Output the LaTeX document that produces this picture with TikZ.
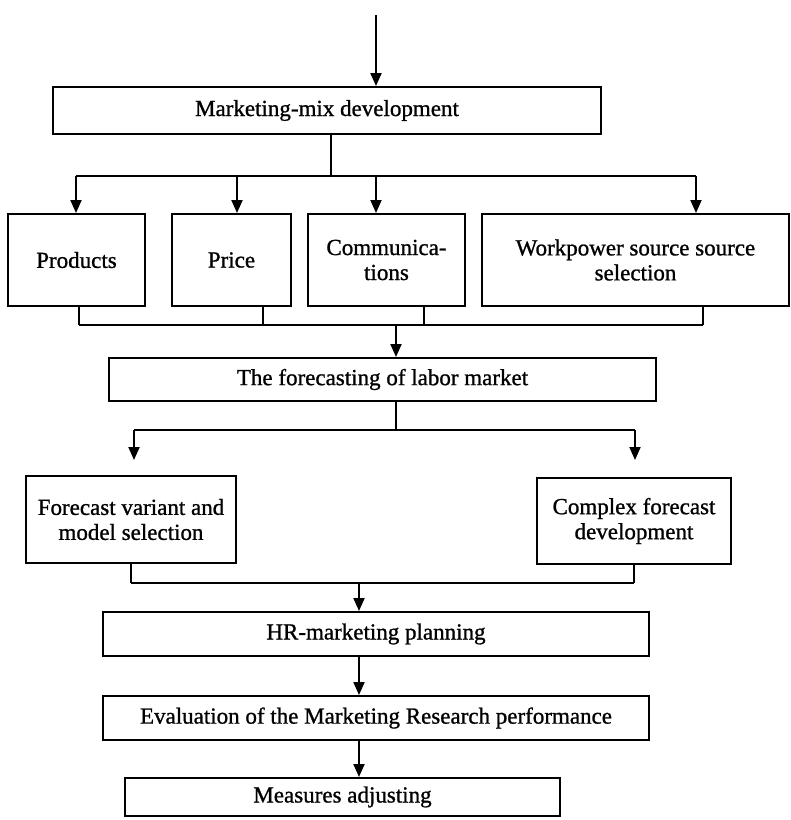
\documentclass[tikz,border=0pt]{standalone}
\usepackage{fontspec}
\setmainfont{Liberation Serif}[FakeBold=1.0]
\usetikzlibrary{arrows.meta}
\begin{document}
\begin{tikzpicture}[x=1pt,y=-1pt,
  line width=2pt,
  box/.style={draw, line width=2pt, align=center, inner sep=2pt,
    font=\fontsize{23}{25}\selectfont},
  arr/.style={-{Triangle[length=13pt,width=11pt]}}]
\useasboundingbox (0,0) rectangle (791,820);

% boxes
\node[box, minimum width=548pt, minimum height=47pt] (mm) at (327,110.5) {Marketing-mix development};
\node[box, minimum width=137pt, minimum height=92pt] (prod) at (76.5,260) {Products};
\node[box, minimum width=119pt, minimum height=92pt] (price) at (231.5,260) {Price};
\node[box, minimum width=157pt, minimum height=92pt] (comm) at (386.5,260) {Communica-\\tions};
\node[box, minimum width=307pt, minimum height=92pt] (work) at (635.5,260) {Workpower source source\\selection};
\node[box, minimum width=547pt, minimum height=43pt] (fore) at (382.5,379.5) {The forecasting of labor market};
\node[box, minimum width=210pt, minimum height=87pt] (var) at (131,519.5) {Forecast variant and\\model selection};
\node[box, minimum width=194pt, minimum height=86pt] (cplx) at (634,521) {Complex forecast\\development};
\node[box, minimum width=546pt, minimum height=44pt] (hr) at (376,634) {HR-marketing planning};
\node[box, minimum width=546pt, minimum height=44pt] (eval) at (376,718) {Evaluation of the Marketing Research performance};
\node[box, minimum width=435pt, minimum height=38pt] (meas) at (342.5,797) {Measures adjusting};

% junction points
\coordinate (in) at (376,15);
\coordinate (b0) at (331,176);
\coordinate (d1) at (76,176);
\coordinate (d2) at (237,176);
\coordinate (d3) at (376,176);
\coordinate (d4) at (696,176);
\coordinate (t1) at (79,325);
\coordinate (t2) at (263,325);
\coordinate (t3) at (424,325);
\coordinate (t4) at (703,325);
\coordinate (t0) at (396,325);
\coordinate (f0) at (396,430);
\coordinate (f1) at (134,430);
\coordinate (f2) at (635,430);
\coordinate (f1e) at (134,460);
\coordinate (f2e) at (635,460);
\coordinate (g1) at (131,583);
\coordinate (g2) at (634,583);
\coordinate (g0) at (359,583);

% incoming arrow
\draw[arr] (in) -- (in |- mm.north);

% marketing mix to its four elements
\draw (b0 |- mm.south) -- (b0);
\draw (d1) -- (d4);
\draw[arr] (d1) -- (d1 |- prod.north);
\draw[arr] (d2) -- (d2 |- price.north);
\draw[arr] (d3) -- (d3 |- comm.north);
\draw[arr] (d4) -- (d4 |- work.north);

% elements to forecasting
\draw (t1 |- prod.south) -- (t1);
\draw (t2 |- price.south) -- (t2);
\draw (t3 |- comm.south) -- (t3);
\draw (t4 |- work.south) -- (t4);
\draw (t1) -- (t4);
\draw[arr] (t0) -- (t0 |- fore.north);

% forecasting branches
\draw (f0 |- fore.south) -- (f0);
\draw (f1) -- (f2);
\draw[arr] (f1) -- (f1e);
\draw[arr] (f2) -- (f2e);

% branches merge into planning
\draw (var.south) -- (g1);
\draw (cplx.south) -- (g2);
\draw (g1) -- (g2);
\draw[arr] (g0) -- (g0 |- hr.north);

% final chain
\draw[arr] (g0 |- hr.south) -- (g0 |- eval.north);
\draw[arr] (g0 |- eval.south) -- (g0 |- meas.north);
\end{tikzpicture}
\end{document}
